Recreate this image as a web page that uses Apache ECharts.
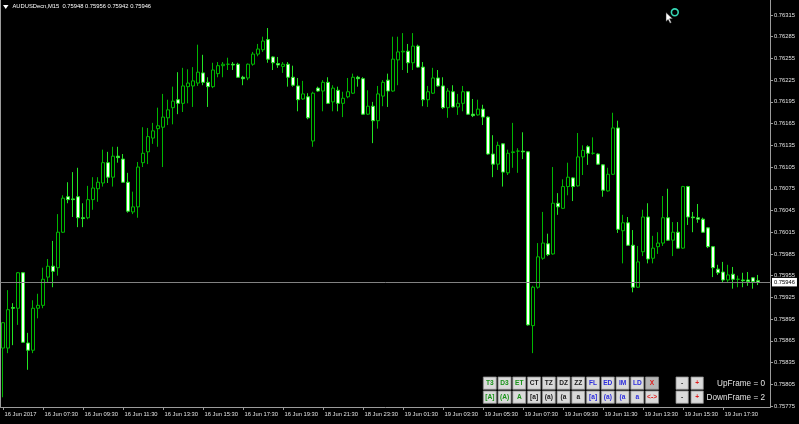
<!DOCTYPE html>
<html><head><meta charset="utf-8">
<script src="https://cdn.jsdelivr.net/npm/echarts@6/dist/echarts.min.js"></script>
<style>html,body{margin:0;padding:0;background:#000;}#c{width:799px;height:424px;}</style>
</head><body><div id="c"></div>
<script>
const symbolTitle = 'AUDUSDecn,M15';
const timeLabels = ['16 Jun 2017','16 Jun 07:30','16 Jun 09:30','16 Jun 11:30','16 Jun 13:30','16 Jun 15:30','16 Jun 17:30','16 Jun 19:30','18 Jun 21:30','18 Jun 23:30','19 Jun 01:30','19 Jun 03:30','19 Jun 05:30','19 Jun 07:30','19 Jun 09:30','19 Jun 11:30','19 Jun 13:30','19 Jun 15:30','19 Jun 17:30'];
const priceTicks = [0.75775,0.75805,0.75835,0.75865,0.75895,0.75925,0.75955,0.75985,0.76015,0.76045,0.76075,0.76105,0.76135,0.76165,0.76195,0.76225,0.76255,0.76285,0.76315];
const opens = [0.75855,0.75855,0.75911,0.75910,0.75959,0.75862,0.75852,0.75910,0.75914,0.75953,
0.75968,0.75966,0.76015,0.76064,0.76061,0.76064,0.76035,0.76035,0.76060,0.76075,
0.76083,0.76111,0.76091,0.76120,0.76116,0.76084,0.76043,0.76050,0.76111,0.76126,
0.76145,0.76158,0.76160,0.76173,0.76187,0.76198,0.76193,0.76216,0.76217,0.76221,
0.76235,0.76222,0.76216,0.76234,0.76245,0.76247,0.76247,0.76247,0.76229,0.76228,
0.76247,0.76261,0.76267,0.76281,0.76257,0.76248,0.76244,0.76247,0.76229,0.76217,
0.76199,0.76202,0.76141,0.76214,0.76210,0.76222,0.76195,0.76211,0.76193,0.76202,
0.76207,0.76229,0.76227,0.76178,0.76189,0.76169,0.76203,0.76225,0.76210,0.76253,
0.76264,0.76265,0.76249,0.76272,0.76243,0.76198,0.76207,0.76228,0.76217,0.76187,
0.76209,0.76188,0.76193,0.76209,0.76178,0.76177,0.76185,0.76174,0.76123,0.76109,
0.76137,0.76097,0.76125,0.76127,0.76127,0.76126,0.75886,0.75939,0.75979,0.75999,
0.75985,0.76055,0.76048,0.76078,0.76090,0.76079,0.76119,0.76133,0.76124,0.76123,
0.76108,0.76072,0.76095,0.76159,0.76017,0.76028,0.75997,0.75939,0.75988,0.76036,
0.75979,0.75995,0.76000,0.76035,0.76004,0.76015,0.75993,0.76078,0.76036,0.76035,
0.76033,0.76021,0.75995,0.75964,0.75960,0.75949,0.75957,0.75950,0.75949,0.75949,
0.75952,0.75948];
const closes = [0.75890,0.75908,0.75910,0.75959,0.75863,0.75852,0.75910,0.75914,0.75950,0.75968,
0.75961,0.76015,0.76062,0.76060,0.76060,0.76035,0.76034,0.76060,0.76076,0.76084,
0.76111,0.76091,0.76120,0.76118,0.76084,0.76044,0.76050,0.76105,0.76124,0.76147,
0.76155,0.76162,0.76174,0.76184,0.76196,0.76193,0.76217,0.76221,0.76224,0.76236,
0.76222,0.76216,0.76239,0.76245,0.76247,0.76247,0.76246,0.76229,0.76227,0.76247,
0.76261,0.76268,0.76279,0.76254,0.76249,0.76246,0.76247,0.76229,0.76218,0.76198,
0.76206,0.76173,0.76207,0.76210,0.76222,0.76193,0.76214,0.76193,0.76200,0.76209,
0.76229,0.76227,0.76178,0.76189,0.76169,0.76206,0.76222,0.76210,0.76254,0.76264,
0.76265,0.76249,0.76272,0.76243,0.76198,0.76209,0.76228,0.76217,0.76187,0.76210,
0.76188,0.76193,0.76209,0.76178,0.76176,0.76185,0.76174,0.76123,0.76109,0.76135,
0.76098,0.76124,0.76126,0.76127,0.76126,0.75887,0.75939,0.75981,0.76000,0.75984,
0.76055,0.76050,0.76078,0.76091,0.76078,0.76119,0.76128,0.76124,0.76124,0.76109,
0.76073,0.76095,0.76159,0.76019,0.76028,0.75997,0.75939,0.75974,0.76036,0.75978,
0.75993,0.76000,0.76035,0.76004,0.76015,0.75993,0.76078,0.76036,0.76035,0.76033,
0.76015,0.75995,0.75966,0.75959,0.75949,0.75956,0.75950,0.75950,0.75948,0.75947,
0.75947,0.75946];
const lows = [0.75787,0.75848,0.75859,0.75887,0.75862,0.75825,0.75848,0.75896,0.75910,0.75946,
0.75939,0.75955,0.76014,0.76055,0.76036,0.76022,0.76022,0.76033,0.76046,0.76057,
0.76078,0.76083,0.76078,0.76111,0.76083,0.76042,0.76040,0.76035,0.76105,0.76109,
0.76137,0.76133,0.76105,0.76163,0.76164,0.76178,0.76181,0.76193,0.76188,0.76217,
0.76218,0.76188,0.76214,0.76229,0.76229,0.76239,0.76239,0.76228,0.76218,0.76225,
0.76245,0.76258,0.76264,0.76249,0.76239,0.76242,0.76235,0.76216,0.76216,0.76182,
0.76198,0.76171,0.76133,0.76209,0.76182,0.76192,0.76182,0.76182,0.76174,0.76200,
0.76206,0.76216,0.76177,0.76177,0.76138,0.76158,0.76189,0.76188,0.76209,0.76218,
0.76239,0.76235,0.76239,0.76242,0.76189,0.76188,0.76206,0.76216,0.76185,0.76173,
0.76187,0.76177,0.76182,0.76177,0.76174,0.76176,0.76163,0.76122,0.76091,0.76101,
0.76078,0.76094,0.76104,0.76097,0.76116,0.75886,0.75848,0.75937,0.75977,0.75982,
0.75984,0.76039,0.76047,0.76066,0.76058,0.76078,0.76094,0.76108,0.76122,0.76108,
0.76064,0.76071,0.76094,0.76014,0.75972,0.75996,0.75932,0.75938,0.75982,0.75972,
0.75972,0.75985,0.75996,0.76003,0.75982,0.75992,0.75992,0.76025,0.76015,0.76028,
0.76014,0.75993,0.75953,0.75956,0.75946,0.75946,0.75937,0.75939,0.75939,0.75941,
0.75937,0.75942];
const highs = [0.75891,0.75935,0.75917,0.75960,0.75960,0.75876,0.75921,0.75930,0.75966,0.75978,
0.76003,0.76040,0.76066,0.76084,0.76098,0.76104,0.76055,0.76079,0.76091,0.76091,
0.76129,0.76126,0.76133,0.76133,0.76123,0.76097,0.76071,0.76112,0.76160,0.76159,
0.76166,0.76187,0.76206,0.76198,0.76216,0.76236,0.76242,0.76240,0.76243,0.76274,
0.76260,0.76229,0.76249,0.76250,0.76250,0.76256,0.76250,0.76249,0.76231,0.76248,
0.76264,0.76275,0.76285,0.76297,0.76258,0.76257,0.76250,0.76250,0.76245,0.76228,
0.76224,0.76207,0.76209,0.76216,0.76225,0.76229,0.76218,0.76216,0.76209,0.76228,
0.76234,0.76231,0.76229,0.76211,0.76195,0.76217,0.76225,0.76234,0.76285,0.76285,
0.76290,0.76275,0.76290,0.76274,0.76250,0.76217,0.76242,0.76239,0.76229,0.76214,
0.76218,0.76206,0.76217,0.76210,0.76199,0.76198,0.76191,0.76175,0.76149,0.76140,
0.76138,0.76129,0.76166,0.76131,0.76153,0.76127,0.75941,0.76000,0.76043,0.76013,
0.76105,0.76069,0.76088,0.76111,0.76091,0.76152,0.76135,0.76135,0.76146,0.76124,
0.76109,0.76104,0.76180,0.76169,0.76039,0.76036,0.76018,0.75996,0.76046,0.76055,
0.76010,0.76015,0.76065,0.76075,0.76029,0.76029,0.76079,0.76079,0.76043,0.76054,
0.76035,0.76022,0.75996,0.75970,0.75974,0.75970,0.75967,0.75955,0.75959,0.75960,
0.75953,0.75956];
const shiftBars = 2;

const barsPerLabel = 8;
const categories = [];
for (let i = 0; i < opens.length + shiftBars; i++) categories.push(String(i));
const candles = opens.map((o, i) => [o, closes[i], lows[i], highs[i]]);
const last = candles[candles.length - 1];
const titleText = symbolTitle + '  ' + [last[0], last[3], last[2], last[1]].map(v => v.toFixed(5)).join(' ');
const showTick = (idx) => idx % barsPerLabel === 0 && idx / barsPerLabel < timeLabels.length;

const FONT = '"Liberation Sans", Arial, sans-serif';
const txtCol = '#e2e2e2';
const frameCol = '#9c9c9c';
const yMin = 0.757736, yMax = 0.763357;

// Buttons (UI panel)
const row1 = ['T3','D3','ET','CT','TZ','DZ','ZZ','FL','ED','IM','LD','X'];
const row2 = ['[A]','(A)','A','[a]','(a)','(a','a','[a]','(a)','(a','a','<->'];
const btnCol = i => i < 3 ? '#179317' : (i < 7 ? '#1c1c1c' : (i < 11 ? '#2b2bdc' : '#e01c1c'));
const graphics = [];
function button(x, y, w, h, label, color, bg) {
  graphics.push({type:'rect', shape:{x:x, y:y, width:w, height:h}, style:{fill:bg, stroke:'#8a8a8a', lineWidth:0.8}});
  graphics.push({type:'text', style:{text:label, x:x + w/2, y:y + h/2 + 0.5, fill:color, font:'bold 6.6px ' + FONT, textAlign:'center', textVerticalAlign:'middle'}});
}
[row1, row2].forEach((row, r) => {
  row.forEach((lab, i) => {
    button(483.3 + i*14.75, 377 + r*14, 13, 12.3, lab, btnCol(i), i === 11 && r === 0 ? '#b6b6b6' : '#dadada');
  });
  button(676, 377 + r*14, 12.3, 12.3, '-', '#444', '#dadada');
  button(691, 377 + r*14, 12.3, 12.3, '+', '#e01c1c', '#dadada');
});
graphics.push({type:'text', style:{text:'UpFrame = 0', x:765, y:383.5, fill:txtCol, font:'8.2px ' + FONT, textAlign:'right', textVerticalAlign:'middle'}});
graphics.push({type:'text', style:{text:'DownFrame = 2', x:765, y:397.5, fill:txtCol, font:'8.2px ' + FONT, textAlign:'right', textVerticalAlign:'middle'}});
// title triangle
graphics.push({type:'polygon', shape:{points:[[3,5],[8.5,5],[5.75,9]]}, style:{fill:'#ffffff'}});
// mouse cursor
graphics.push({type:'circle', shape:{cx:674.8, cy:12.3, r:3.4}, style:{fill:'none', stroke:'#35d6b4', lineWidth:1.6}});
graphics.push({type:'polygon', shape:{points:[[666,12.5],[666,21.5],[668.2,19.5],[670,23.2],[671.4,22.5],[669.6,18.8],[672.6,18.8]]}, style:{fill:'#ffffff', stroke:'#222', lineWidth:0.5}});

const chart = echarts.init(document.getElementById('c'), null, {renderer:'canvas'});
chart.setOption({
  backgroundColor:'#000000',
  animation:false,
  title:{text:titleText, left:12.5, top:3.4, padding:0, textStyle:{color:'#ffffff', fontSize:5.8, fontWeight:'normal', fontFamily:FONT}},
  grid:{left:0.5, top:0, width:770, height:407, containLabel:false},
  xAxis:{
    type:'category', data:categories, boundaryGap:true,
    axisLine:{show:true, lineStyle:{color:frameCol, width:1}},
    axisTick:{show:true, interval:showTick, alignWithLabel:true, length:3, lineStyle:{color:frameCol}},
    axisLabel:{interval:showTick, formatter:(v, idx) => timeLabels[idx / barsPerLabel] || '', align:'left', padding:[0,0,0,1.5], margin:4, color:txtCol, fontSize:5.8, fontFamily:FONT},
    splitLine:{show:false}
  },
  yAxis:[{
    type:'value', position:'right', min:yMin, max:yMax,
    axisLine:{show:true, lineStyle:{color:frameCol, width:1}},
    axisTick:{show:true, customValues:priceTicks, length:2.5, lineStyle:{color:frameCol}},
    axisLabel:{customValues:priceTicks, formatter:v => v.toFixed(5), margin:3.5, color:txtCol, fontSize:5.8, fontFamily:FONT},
    splitLine:{show:false}
  },{
    type:'value', position:'left', min:yMin, max:yMax,
    axisLine:{show:true, lineStyle:{color:frameCol, width:1}},
    axisTick:{show:false}, axisLabel:{show:false}, splitLine:{show:false}
  }],
  series:[{
    type:'line', data:[], yAxisIndex:0, silent:true, symbol:'none',
    markLine:{
      silent:true, symbol:'none', animation:false, precision:5,
      lineStyle:{color:'#828282', width:1, type:'solid'},
      label:{show:true, position:'end', distance:1.5, formatter:() => last[1].toFixed(5), backgroundColor:'#ffffff', color:'#000000', fontSize:5.8, fontFamily:FONT, padding:[1.5,2,1,2]},
      data:[{yAxis:last[1]}]
    }
  },{
    type:'candlestick', data:candles, yAxisIndex:0, barWidth:3,
    itemStyle:{color:'#000000', color0:'#ffffff', borderColor:'#00b800', borderColor0:'#22e622', borderWidth:1}
  }],
  graphic:graphics
});
</script></body></html>
